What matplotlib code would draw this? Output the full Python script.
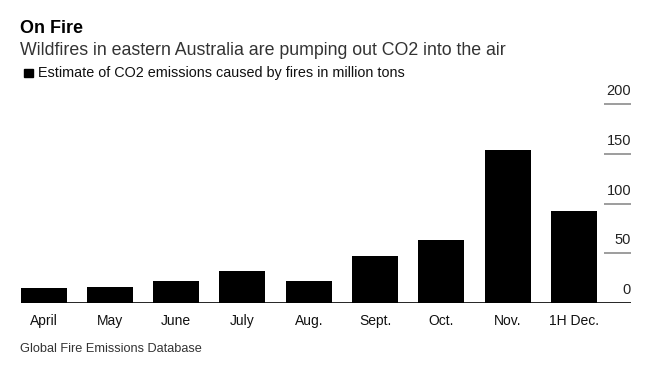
import numpy as np
import matplotlib.pyplot as plt

# data
months = ['April', 'May', 'June', 'July', 'Aug.', 'Sept.', 'Oct.', 'Nov.', '1H Dec.']
co2 = [15, 16, 22, 32, 22, 47, 63, 154, 92]
yticks = [0, 50, 100, 150, 200]

plt.rcParams['font.family'] = ['Liberation Sans', 'DejaVu Sans']

W, H = 659, 366
fig = plt.figure(figsize=(W / 100, H / 100), dpi=100)

# axes placed in pixel terms: baseline x 21..631, y 0 at 303px, 200 at 104px
ax = fig.add_axes([21 / W, (H - 303) / H, 610 / W, 199 / H])
x = np.arange(len(months))
ax.bar(x, co2, width=0.695, color='black')
ax.set_xlim(-0.34, 8.86)
ax.set_ylim(0, 200)

for s in ax.spines.values():
    s.set_visible(False)
ax.axhline(0, color='black', lw=1.2, zorder=3)
ax.set_yticks([])
ax.set_xticks(x)
ax.set_xticklabels(months, fontsize=10, color='#111111')
ax.tick_params(axis='x', length=0, pad=8)

# short gridline stubs and labels on the right
for v in yticks[1:]:
    ax.plot([8.45, 8.86], [v, v], color='#8c8c8c', lw=1.2, clip_on=False,
            solid_capstyle='butt')
for v in yticks:
    ax.text(8.86, v + 9, str(v), ha='right', va='baseline', fontsize=10.5,
            color='#222222', clip_on=False)

# header
fig.text(20 / W, 1 - 33 / H, 'On Fire', fontsize=13, fontweight='bold',
         color='black', va='baseline')
fig.text(20 / W, 1 - 55 / H, 'Wildfires in eastern Australia are pumping out CO2 into the air',
         fontsize=12.8, color='#333333', va='baseline')
fig.patches.append(plt.Rectangle((24 / W, 1 - 77 / H), 8.5 / W, 8.5 / H,
                                 transform=fig.transFigure, color='black'))
fig.text(38 / W, 1 - 77 / H, 'Estimate of CO2 emissions caused by fires in million tons',
         fontsize=10.4, color='#111111', va='baseline')

# source
fig.text(20 / W, 1 - 352 / H, 'Global Fire Emissions Database',
         fontsize=9.2, color='#333333', va='baseline')

fig.savefig('out.png', dpi=100)
